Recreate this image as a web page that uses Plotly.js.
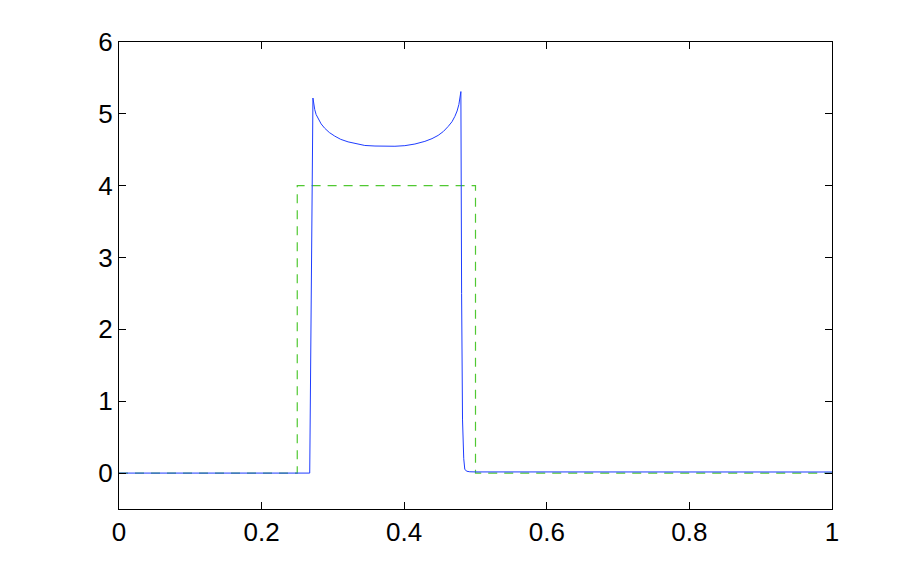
<!DOCTYPE html>
<html>
<head>
<meta charset="utf-8">
<script src="https://cdn.plot.ly/plotly-3.0.1.min.js"></script>
<style>html,body{margin:0;padding:0;background:#fff;}#chart{width:918px;height:574px;}</style>
</head>
<body>
<div id="chart"></div>
<script>
// Numerical solution (blue, solid)
const solX = [0, 0.1, 0.2, 0.2675, 0.272, 0.2732, 0.2745, 0.2765, 0.2791, 0.2835, 0.2885, 0.2950, 0.3026, 0.3110, 0.3213, 0.3330, 0.3447, 0.3590, 0.3728, 0.3870, 0.4009, 0.4150, 0.4290, 0.4390, 0.4476, 0.4550, 0.4617, 0.4670, 0.4711, 0.4742, 0.4767, 0.4783, 0.4795, 0.4805, 0.4818, 0.4835, 0.4850, 0.4880, 0.4920, 0.5, 0.6, 0.8, 1.0];
const solY = [0, 0, 0, 0, 5.22, 5.13, 5.06, 4.99, 4.94, 4.86, 4.80, 4.74, 4.69, 4.645, 4.61, 4.58, 4.56, 4.552, 4.547, 4.549, 4.557, 4.58, 4.617, 4.655, 4.70, 4.755, 4.825, 4.89, 4.965, 5.04, 5.13, 5.21, 5.31, 2.5, 0.74, 0.2, 0.05, 0.025, 0.018, 0.016, 0.015, 0.015, 0.015];
// Exact solution (green, dashed)
const exX = [0, 0.25, 0.25, 0.5, 0.5, 1.0];
const exY = [0, 0, 4, 4, 0, 0];
const xTicks = [0, 0.2, 0.4, 0.6, 0.8, 1];
const xTickText = ['0', '0.2', '0.4', '0.6', '0.8', '1'];
const yTicks = [0, 1, 2, 3, 4, 5, 6];
const yTickText = ['0', '1', '2', '3', '4', '5', '6'];

const traces = [
  {x: exX, y: exY, type: 'scatter', mode: 'lines',
   line: {color: 'rgb(80,200,50)', width: 1.2, dash: '9px,7px'}, hoverinfo: 'skip'},
  {x: solX, y: solY, type: 'scatter', mode: 'lines',
   line: {color: 'rgb(30,60,255)', width: 1}, hoverinfo: 'skip'}
];

const axisCommon = {
  showline: true, linecolor: '#000', linewidth: 1, mirror: 'ticks',
  ticks: 'inside', ticklen: 7, tickwidth: 1, tickcolor: '#000',
  showgrid: false, zeroline: false,
  tickfont: {family: 'Liberation Sans', size: 26, color: '#000'}
};

const layout = {
  width: 918, height: 574,
  margin: {l: 119, r: 86, t: 42, b: 65, pad: 0},
  paper_bgcolor: '#fff', plot_bgcolor: '#fff',
  showlegend: false,
  xaxis: Object.assign({}, axisCommon, {range: [0, 1], tickvals: xTicks, ticktext: xTickText}),
  yaxis: Object.assign({}, axisCommon, {range: [-0.5, 6], tickvals: yTicks, ticktext: yTickText})
};

Plotly.newPlot('chart', traces, layout, {staticPlot: true, displayModeBar: false});
</script>
</body>
</html>
